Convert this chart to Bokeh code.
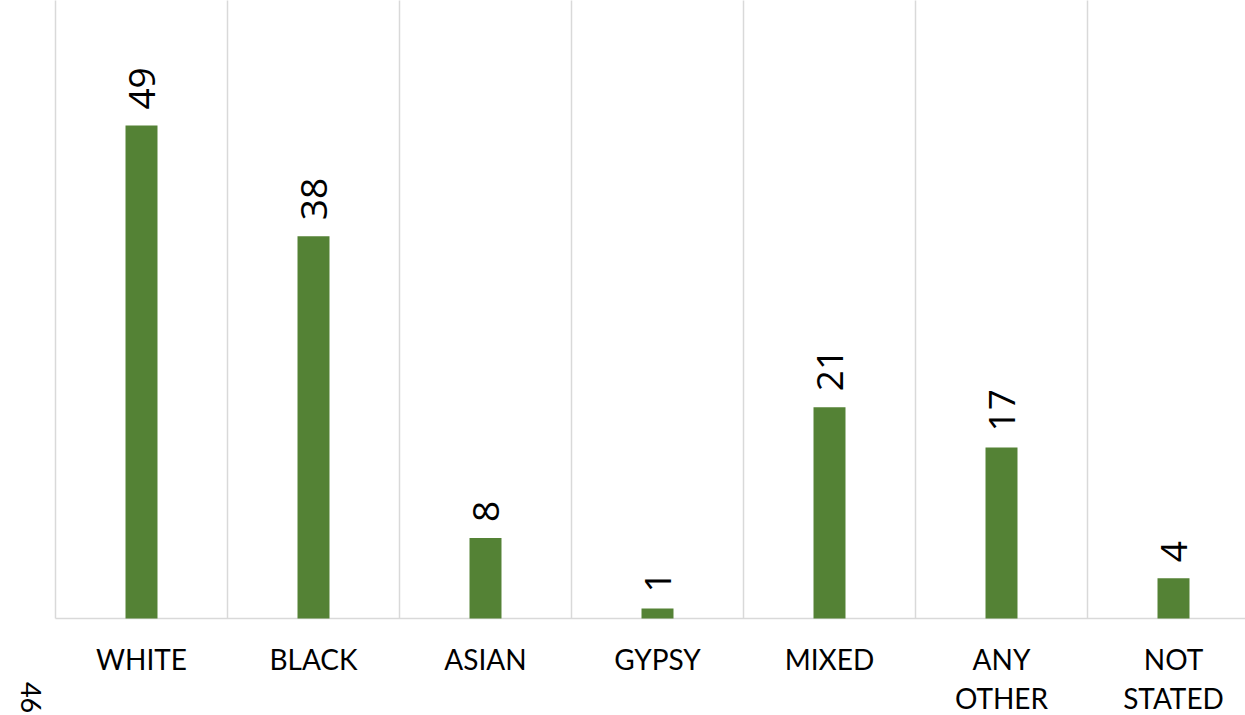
from bokeh.plotting import figure
from bokeh.models import Range1d, ColumnDataSource
from bokeh.core.properties import value
from bokeh.embed import file_html
from bokeh.resources import INLINE
import math

categories = ["WHITE", "BLACK", "ASIAN", "GYPSY", "MIXED", "ANY\nOTHER", "NOT\nSTATED"]
counts = [49, 38, 8, 1, 21, 17, 4]
page_number = "46"

W, H = 1245, 715
left_px, base_px = 55, 618
cat_px = 172.0
unit_px = 10.06

x_lo = -left_px / cat_px
x_hi = (W - left_px) / cat_px
y_hi = base_px / unit_px
y_lo = -(H - base_px) / unit_px

p = figure(width=W, height=H, output_backend="svg", toolbar_location=None,
           x_range=Range1d(x_lo, x_hi), y_range=Range1d(y_lo, y_hi),
           min_border=0, x_axis_location=None, y_axis_location=None)
p.outline_line_color = None
p.xgrid.visible = False
p.ygrid.visible = False
p.background_fill_color = "white"
p.border_fill_color = "white"

n = len(categories)
xs = [i + 0.5 for i in range(n)]
src = ColumnDataSource(dict(x=xs, top=counts, cat=categories,
                            lab=[str(c) for c in counts],
                            laby=[-2.35] * n))

# vertical separators
bounds = list(range(n + 1))
p.segment(x0=bounds, y0=[0] * len(bounds), x1=bounds, y1=[y_hi + 5] * len(bounds),
          line_color="#d9d9d9", line_width=1.5)
# baseline
p.segment(x0=[0], y0=[0], x1=[n], y1=[0], line_color="#d9d9d9", line_width=1.5)

p.vbar(x="x", top="top", bottom=0, width=0.186, source=src,
       fill_color="#548235", line_color=None)

p.text(x="x", y="top", text="lab", source=src, angle=math.pi / 2,
       text_align="left", text_baseline="middle", y_offset=-16,
       text_font=value("Open Sans"), text_font_size="37px", text_color="black")

p.text(x="x", y="laby", text="cat", source=src,
       text_align="center", text_baseline="top", text_line_height=1.15,
       text_font=value("Lato"), text_font_size="28px", text_color="black")

p.text(x=[-0.145], y=[-6.3], text=[page_number], angle=-math.pi / 2,
       text_align="left", text_baseline="middle",
       text_font=value("Lato"), text_font_size="27px", text_color="black")

open("out.html", "w").write(file_html(p, INLINE))
